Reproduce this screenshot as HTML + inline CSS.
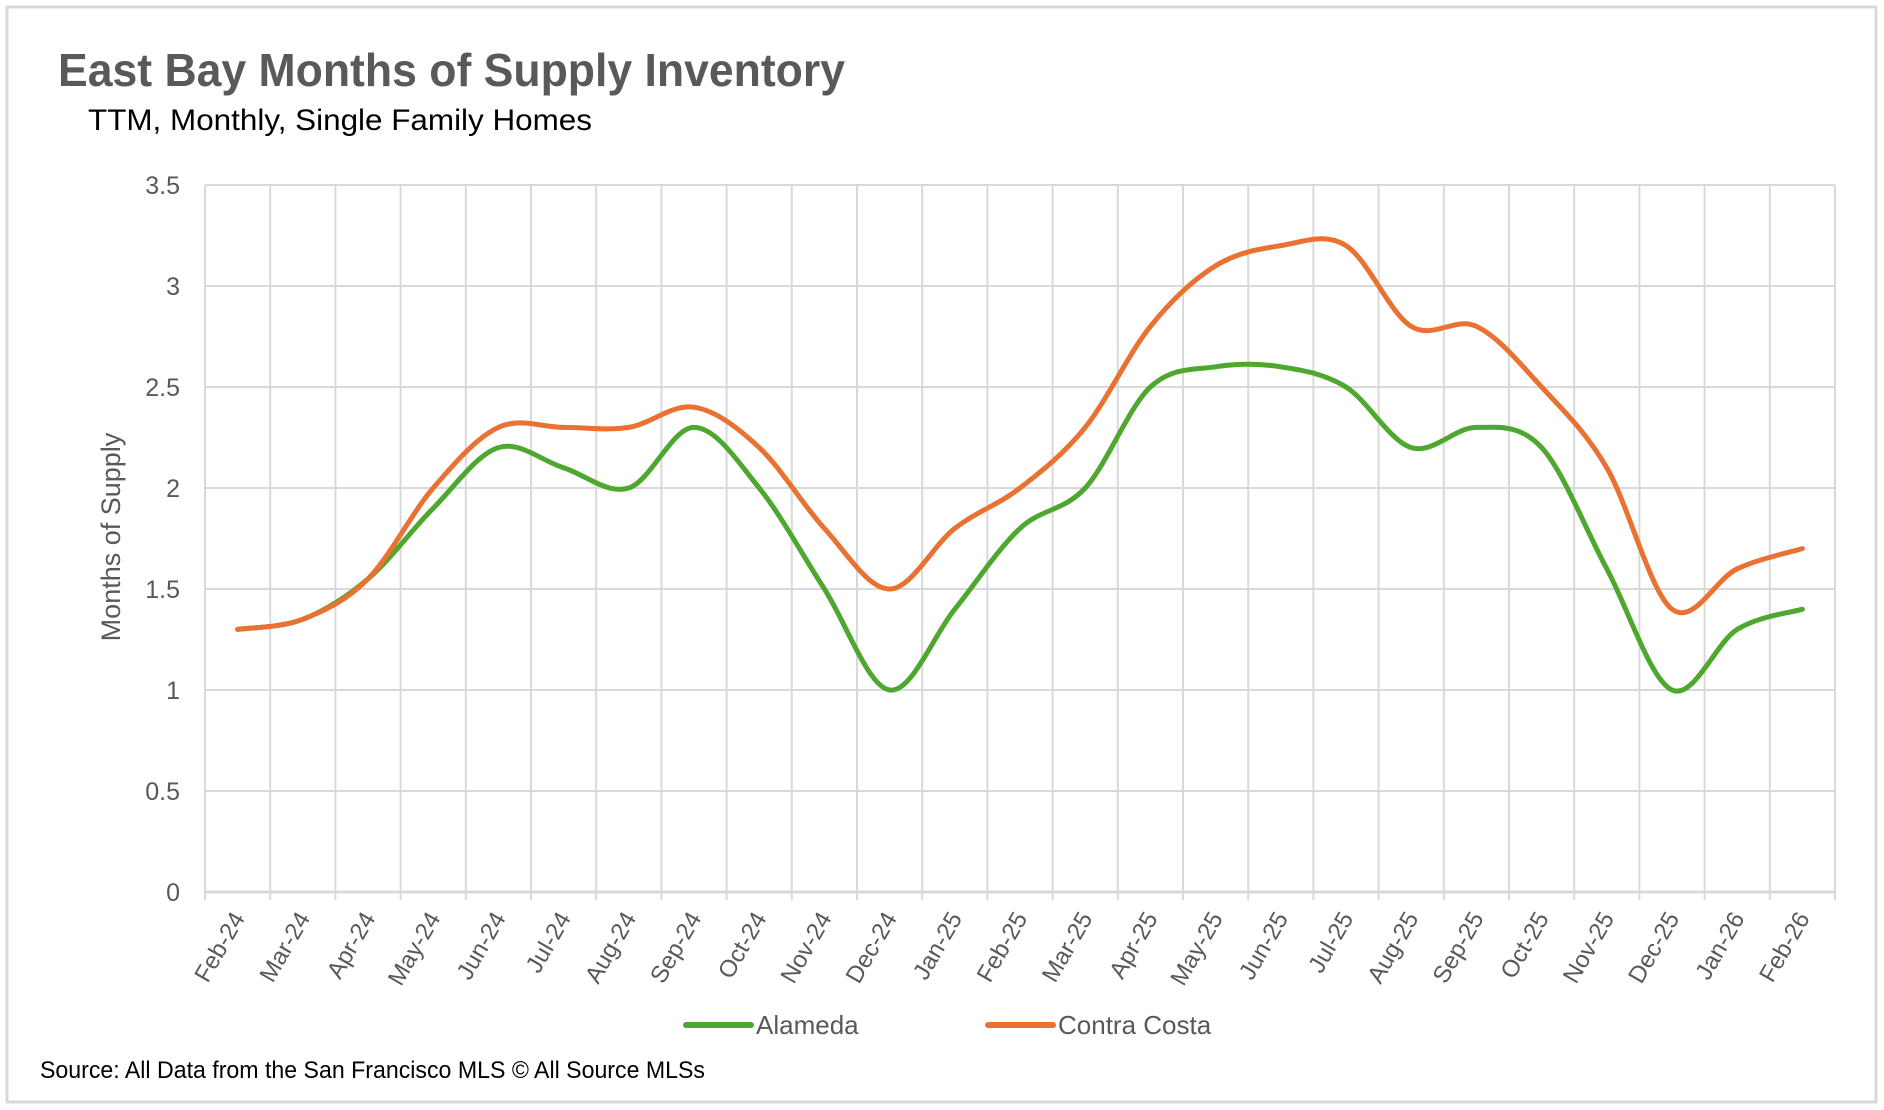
<!DOCTYPE html>
<html><head><meta charset="utf-8"><style>
html,body{margin:0;padding:0;background:#fff;}
svg{display:block;font-family:"Liberation Sans Narrow","Liberation Sans",sans-serif;}
</style></head><body>
<svg id="chart" width="1884" height="1110" viewBox="0 0 1884 1110">
<rect x="7" y="7" width="1869" height="1095" fill="#fff" stroke="#d9d9d9" stroke-width="3"/>
<text x="58" y="86" font-size="46" font-weight="bold" fill="#595959" textLength="787" lengthAdjust="spacingAndGlyphs">East Bay Months of Supply Inventory</text>
<text x="88" y="130" font-size="30" fill="#000" textLength="504" lengthAdjust="spacingAndGlyphs">TTM, Monthly, Single Family Homes</text>
<g id="grid"></g>
<g id="yticks"></g>
<g id="xticks"></g>
<g id="lines"></g>
<text transform="translate(120,537) rotate(-90)" text-anchor="middle" font-size="27" fill="#595959">Months of Supply</text>
<g>
<line x1="686" y1="1025" x2="751" y2="1025" stroke="#4EA72E" stroke-width="6" stroke-linecap="round"/>
<text x="756" y="1034" font-size="26" fill="#595959">Alameda</text>
<line x1="988" y1="1025" x2="1053" y2="1025" stroke="#E97132" stroke-width="6" stroke-linecap="round"/>
<text x="1058" y="1034" font-size="26" fill="#595959">Contra Costa</text>
</g>
<text x="40" y="1078" font-size="24" fill="#000" textLength="665" lengthAdjust="spacingAndGlyphs">Source: All Data from the San Francisco MLS © All Source MLSs</text>
</svg>
<script>
const categories = ["Feb-24","Mar-24","Apr-24","May-24","Jun-24","Jul-24","Aug-24","Sep-24","Oct-24","Nov-24","Dec-24","Jan-25","Feb-25","Mar-25","Apr-25","May-25","Jun-25","Jul-25","Aug-25","Sep-25","Oct-25","Nov-25","Dec-25","Jan-26","Feb-26"];
const alameda = [1.3,1.35,1.55,1.9,2.2,2.1,2.0,2.3,2.0,1.5,1.0,1.4,1.8,2.0,2.5,2.6,2.6,2.5,2.2,2.3,2.2,1.6,1.0,1.3,1.4];
const contraCosta = [1.3,1.35,1.55,2.0,2.3,2.3,2.3,2.4,2.2,1.8,1.5,1.8,2.0,2.3,2.8,3.1,3.2,3.2,2.8,2.8,2.5,2.1,1.4,1.6,1.7];
const yTicks = [0,0.5,1,1.5,2,2.5,3,3.5];
const yTickLabels = ["0","0.5","1","1.5","2","2.5","3","3.5"];

const NS="http://www.w3.org/2000/svg";
const L=205,R=1835,T=185,B=892,YMAX=3.5;
const bw=(R-L)/categories.length;
const xPos=i=>L+bw*(i+0.5);
const yPos=v=>B-(v/YMAX)*(B-T);
function mk(tag,attrs,parent){const e=document.createElementNS(NS,tag);for(const k in attrs)e.setAttribute(k,attrs[k]);parent.appendChild(e);return e;}
const grid=document.getElementById('grid'),yt=document.getElementById('yticks'),xt=document.getElementById('xticks'),lines=document.getElementById('lines');
for(let i=0;i<=categories.length;i++){
  const x=L+bw*i;
  const g=mk('line',{x1:x,y1:T,x2:x,y2:B+8,stroke:'#d9d9d9','stroke-width':2},grid);
  
  
}
yTicks.forEach((v,i)=>{
  const y=yPos(v);
  const g=mk('line',{x1:L,y1:y,x2:R,y2:y,stroke:'#d9d9d9','stroke-width':v===0?3:2},grid);
  
  
  const t=mk('text',{x:180,y:y+9,'text-anchor':'end','font-size':25,fill:'#595959'},yt);
  t.textContent=yTickLabels[i];
  
  
});
categories.forEach((c,i)=>{
  const x=xPos(i)+8;
  const t=mk('text',{x:0,y:0,'text-anchor':'end','font-size':24,fill:'#595959',transform:`translate(${x},${B+26}) rotate(-60)`},xt);
  t.textContent=c;
  
  
});
function smooth(vals){
  const p=vals.map((v,i)=>[xPos(i),yPos(v)]);
  let d=`M${p[0][0]},${p[0][1]}`;
  for(let i=0;i<p.length-1;i++){
    const p0=p[i-1]||p[i],p1=p[i],p2=p[i+1],p3=p[i+2]||p[i+1];
    const c1=[p1[0]+(p2[0]-p0[0])/6,p1[1]+(p2[1]-p0[1])/6];
    const c2=[p2[0]-(p3[0]-p1[0])/6,p2[1]-(p3[1]-p1[1])/6];
    d+=` C${c1[0]},${c1[1]} ${c2[0]},${c2[1]} ${p2[0]},${p2[1]}`;
  }
  return d;
}
const s1=mk('path',{d:smooth(alameda),fill:'none',stroke:'#4EA72E','stroke-width':5,'stroke-linecap':'round'},lines);


const s2=mk('path',{d:smooth(contraCosta),fill:'none',stroke:'#E97132','stroke-width':5,'stroke-linecap':'round'},lines);


</script>
</body></html>
